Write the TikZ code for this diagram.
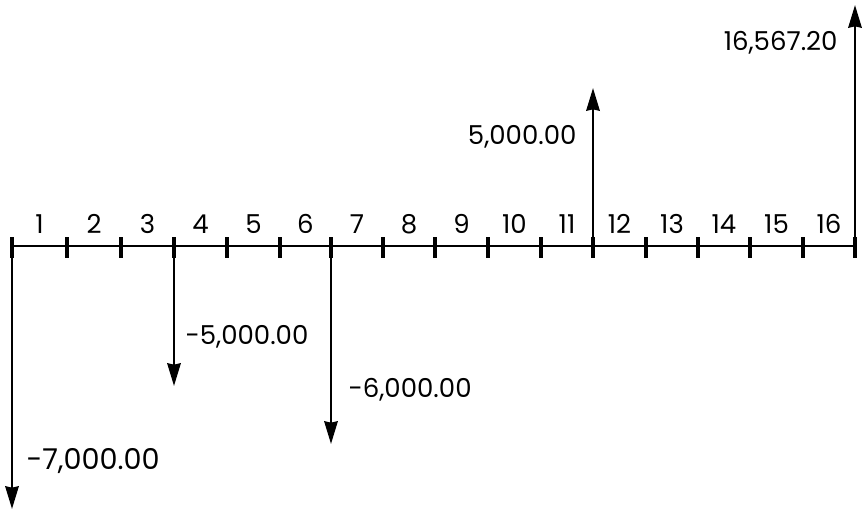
\documentclass[tikz,border=0pt]{standalone}
\usepackage{fontspec}
\setmainfont{Poppins}
\usetikzlibrary{arrows.meta,calc}

\tikzset{every picture/.style={line width=0.75pt}}
\tikzset{
  axis line/.style={line width=2pt},
  tick line/.style={line width=2.5pt},
  flow arrow/.style={line width=2pt, -{Stealth[length=17pt,width=10pt,inset=1pt]}},
  period label/.style={anchor=base, inner sep=0.75pt, font=\fontsize{19.5}{23}\selectfont},
  amount label/.style={inner sep=0.75pt, font=\fontsize{19.5}{23}\selectfont},
}

\begin{document}
\begin{tikzpicture}[x=0.75pt,y=0.75pt,yscale=-1,xscale=1]
        \useasboundingbox (0,0) rectangle (865,512);
        % points on the time line
        \foreach \x [count=\i from 0] in {12,67,121,174,227,280,331,383,435,488,541,593,646,698,750,803,855} {
          \coordinate (t\i) at (\x,246);
          \coordinate (u\i) at (\x,237);
          \coordinate (d\i) at (\x,258);
        }
        %Straight Lines: time line
        \draw [axis line] (t0) -- (t16) ;
        % ticks
        \foreach \i in {0,...,16} \draw [tick line] (u\i) -- (d\i) ;
        % Text Node: periods
        \foreach \i [evaluate=\i as \j using int(\i-1)] in {1,...,16}
          \node [period label] (p\i) at ($(u\j)!0.5!(u\i)+(0,-4)$) {\i};
        % tips of the cash flows
        \coordinate (f0) at (12,509);
        \coordinate (f3) at (174,386);
        \coordinate (f6) at (331,444);
        \coordinate (f11) at (593,88);
        \coordinate (f16) at (855,5);
        %Straight Lines: cash flows
        \draw [flow arrow] (t0) -- (f0) ;
        \draw [flow arrow] (t3) -- (f3) ;
        \draw [flow arrow] (t6) -- (f6) ;
        \draw [flow arrow] (t11) -- (f11) ;
        \draw [flow arrow] (t16) -- (f16) ;
        % Text Node: amounts
        \node [amount label, anchor=west, font=\fontsize{21.5}{25}\selectfont] (a0) at (25,461) {-7,000.00};
        \node [amount label, anchor=west] (a3) at (184,337) {-5,000.00};
        \node [amount label, anchor=west] (a6) at (347,390) {-6,000.00};
        \node [amount label, anchor=east] (a11) at (578,137) {5,000.00};
        \node [amount label, anchor=east] (a16) at (839,43) {16,567.20};
\end{tikzpicture}
\end{document}
